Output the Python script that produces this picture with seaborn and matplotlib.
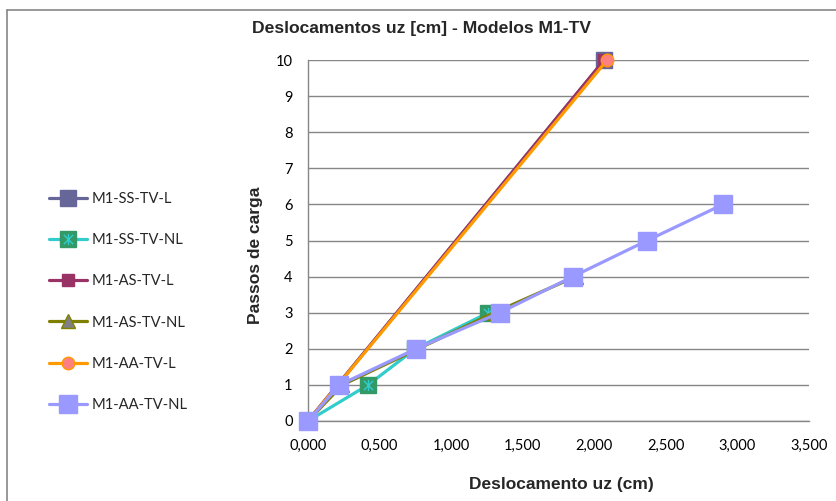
import numpy as np
import pandas as pd
import matplotlib
matplotlib.use("Agg")
import matplotlib.pyplot as plt
from matplotlib.path import Path
from matplotlib.lines import Line2D
from matplotlib.legend_handler import HandlerTuple
import seaborn as sns

# Load steps and vertical displacements (cm) for each model
ss_l_uz = [0.0, 2.07]
ss_l_step = [0, 10]
ss_nl_uz = [0.0, 0.42, 0.75, 1.26]
ss_nl_step = [0, 1, 2, 3]
as_l_uz = [0.0, 2.07]
as_l_step = [0, 10]
as_nl_uz = [0.0, 0.24, 0.77, 1.30, 1.87]
as_nl_step = [0, 1, 2, 3, 4]
aa_l_uz = [0.0, 2.09]
aa_l_step = [0, 10]
aa_nl_uz = [0.0, 0.22, 0.755, 1.34, 1.85, 2.37, 2.90]
aa_nl_step = [0, 1, 2, 3, 4, 5, 6]

series_names = ["M1-SS-TV-L", "M1-SS-TV-NL", "M1-AS-TV-L",
                "M1-AS-TV-NL", "M1-AA-TV-L", "M1-AA-TV-NL"]
x_ticks = [0.0, 0.5, 1.0, 1.5, 2.0, 2.5, 3.0, 3.5]
y_ticks = list(range(0, 11))

sns.set_style("white")
plt.rcParams["font.family"] = ["Lato", "DejaVu Sans"]

W, H = 837, 501
fig = plt.figure(figsize=(W / 100, H / 100), dpi=100)
ax = fig.add_axes([308 / W, 1 - 421 / H, (809 - 308) / W, (421 - 60) / H])

# asterisk-shaped marker: an X with a vertical bar
star_path = Path(
    [(-1, -1), (1, 1), (-1, 1), (1, -1), (0, -1.2), (0, 1.2)],
    [Path.MOVETO, Path.LINETO, Path.MOVETO, Path.LINETO, Path.MOVETO, Path.LINETO],
)

styles = [
    dict(color="#666699", marker="s", markersize=11.5, mfc="#666699", mec="#666699"),
    dict(color="#33CCCC", marker="s", markersize=12, mfc="#339966", mec="#339966"),
    dict(color="#993366", marker="s", markersize=8, mfc="#993366", mec="#993366"),
    dict(color="#808000", marker="^", markersize=9.5, mfc="#808080", mec="#808000"),
    dict(color="#FF9900", marker="o", markersize=9, mfc="#FF8080", mec="#FF9900"),
    dict(color="#9999FF", marker="s", markersize=12.5, mfc="#9999FF", mec="#9999FF"),
]
data = [
    (ss_l_uz, ss_l_step), (ss_nl_uz, ss_nl_step), (as_l_uz, as_l_step),
    (as_nl_uz, as_nl_step), (aa_l_uz, aa_l_step), (aa_nl_uz, aa_nl_step),
]

handles = []
for i, (name, (xs, ys), st) in enumerate(zip(series_names, data, styles)):
    df = pd.DataFrame({"uz": xs, "passo": ys})
    sns.lineplot(data=df, x="uz", y="passo", ax=ax, estimator=None, sort=False,
                 color=st["color"], lw=2.3, marker=st["marker"],
                 markersize=st["markersize"], markerfacecolor=st["mfc"],
                 markeredgecolor=st["mec"], markeredgewidth=1.0,
                 zorder=3 + i, clip_on=False, legend=False)
    h = Line2D([], [], color=st["color"], lw=2.3, marker=st["marker"],
               markersize=st["markersize"], markerfacecolor=st["mfc"],
               markeredgecolor=st["mec"], markeredgewidth=1.0)
    if name == "M1-SS-TV-NL":
        ax.plot(xs, ys, ls="none", marker=star_path, markersize=8,
                markerfacecolor="none", markeredgecolor="#33CCCC",
                markeredgewidth=1.0, zorder=3 + i, clip_on=False)
        star = Line2D([], [], ls="none", marker=star_path, markersize=8,
                      markerfacecolor="none", markeredgecolor="#33CCCC",
                      markeredgewidth=1.0)
        h = (h, star)
    handles.append(h)

ax.set_xlim(0, 3.5)
ax.set_ylim(0, 10)
ax.set_xticks(x_ticks)
ax.set_xticklabels([f"{v:.3f}".replace(".", ",") for v in x_ticks])
ax.set_yticks(y_ticks)
ax.set_yticklabels([str(v) for v in y_ticks])
ax.tick_params(axis="both", labelsize=10.5, colors="#868686", labelcolor="black",
               direction="out", length=5, width=1)
ax.tick_params(axis="x", pad=8)
ax.tick_params(axis="y", pad=6)
ax.yaxis.grid(True, color="#868686", lw=1)
ax.xaxis.grid(False)
for s in ["top", "right"]:
    ax.spines[s].set_visible(False)
for s in ["left", "bottom"]:
    ax.spines[s].set_color("#868686")
    ax.spines[s].set_linewidth(1)
ax.set_xlabel("")
ax.set_ylabel("")

bold = dict(family=["Liberation Sans", "DejaVu Sans"], fontweight="bold")
fig.text(422 / W, 1 - 28 / H, "Deslocamentos uz [cm] - Modelos M1-TV",
         ha="center", va="center", fontsize=12.6, **bold)
fig.text(561 / W, 1 - 484 / H, "Deslocamento uz (cm)",
         ha="center", va="center", fontsize=12.5, **bold)
fig.text(256 / W, 1 - 255 / H, "Passos de carga", rotation=90,
         ha="center", va="center", fontsize=12.5, **bold)

fig.legend(handles, series_names, loc="center left",
           bbox_to_anchor=(49 / W, 1 - 302 / H), frameon=False,
           fontsize=10.6, handlelength=2.6, handletextpad=0.3,
           labelspacing=1.85, borderpad=0, borderaxespad=0,
           handler_map={tuple: HandlerTuple(ndivide=1, pad=0)})

# chart frame edges
fig.add_artist(Line2D([7 / W, 1.0], [1 - 10 / H, 1 - 10 / H], color="#868686", lw=1.2))
fig.add_artist(Line2D([7 / W, 7 / W], [0.0, 1 - 10 / H], color="#868686", lw=1.2))

fig.savefig("out.png", dpi=100)
